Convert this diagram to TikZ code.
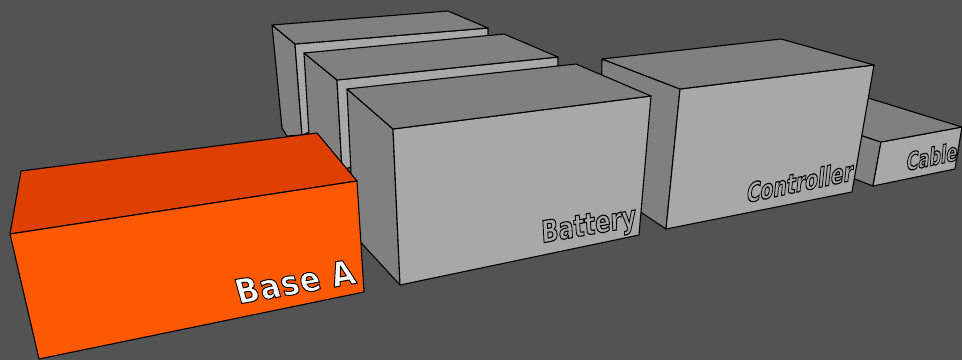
\documentclass[tikz,border=0pt]{standalone}
\usepackage{fontspec}
\setmainfont{DejaVu Sans}
\definecolor{bg}{HTML}{535353}
\definecolor{topgrey}{HTML}{808080}
\definecolor{frontgrey}{HTML}{A8A8A8}
\definecolor{toporange}{HTML}{DD4000}
\definecolor{frontorange}{HTML}{FF5900}
\newcommand{\strokedtext}[2]{\special{pdf:code 2 Tr #1 w 0 0 0 RG #2 g}}
\newcommand{\plaintextmode}{\special{pdf:code 0 Tr}}
\tikzset{
  face/.style={draw=black,line width=1.1pt,line join=round},
  topface/.style={face,fill=topgrey},
  sideface/.style={face,fill=topgrey},
  frontface/.style={face,fill=frontgrey},
  labeltext/.style={anchor=base west,inner sep=0pt,outer sep=0pt,transform shape}
}
\begin{document}
\begin{tikzpicture}[x=1pt,y=-1pt]
\fill[bg] (0,0) rectangle (962,360);
\useasboundingbox (0,0) rectangle (962,360);
% back box
\draw[sideface] (272,25) -- (295,44) -- (302,135) -- (287,136) -- (282,128) -- cycle;
\draw[frontface] (295,44) -- (488,28) -- (488,60) -- (302,135) -- cycle;
\draw[topface] (272,25) -- (448,11) -- (488,28) -- (295,44) -- cycle;
% second box
\draw[sideface] (304,53) -- (337,80) -- (342,170) -- (309,135) -- cycle;
\draw[frontface] (337,80) -- (558,57) -- (558,100) -- (342,170) -- cycle;
\draw[topface] (304,53) -- (504,34) -- (558,57) -- (337,80) -- cycle;
% cable
\draw[sideface] (860,135) -- (881,142) -- (873,186) -- (852,178) -- cycle;
\draw[frontface] (881,142) -- (962,127) -- (955,169) -- (873,186) -- cycle;
\draw[topface] (860,95.5) -- (962,127) -- (881,142) -- (860,135) -- cycle;
% controller
\draw[sideface] (602,59) -- (680,89) -- (666,229) -- (642,213) -- (600,180) -- cycle;
\draw[frontface] (680,89) -- (874,65) -- (852,192) -- (666,229) -- cycle;
\draw[topface] (602,59) -- (781,39) -- (874,65) -- (680,89) -- cycle;
% battery
\draw[sideface] (347,89) -- (393,129) -- (400,285) -- (354,235) -- cycle;
\draw[frontface] (393,129) -- (651,96) -- (639,235) -- (400,285) -- cycle;
\draw[topface] (347,89) -- (576,64) -- (651,96) -- (393,129) -- cycle;
% base A
\draw[face,fill=toporange] (21,171) -- (317,133) -- (357,181) -- (10,234) -- cycle;
\draw[face,fill=frontorange] (10,234) -- (357,181) -- (364,292) -- (39,359) -- cycle;
% labels
\node[labeltext,rotate=10,xslant=-.1,xscale=.9] (baselabel) at (239,304)
  {\fontsize{34}{34}\selectfont\bfseries\addfontfeatures{LetterSpace=2.5}\strokedtext{1}{1}Base A\plaintextmode};
\node[labeltext,rotate=10,xslant=.12,xscale=.76] (batterylabel) at (542,243)
  {\fontsize{30}{30}\selectfont\bfseries\strokedtext{1.1}{.66}Battery\plaintextmode};
\node[labeltext,rotate=12,xslant=.32,xscale=.74] (controllerlabel) at (746,203)
  {\fontsize{26}{26}\selectfont\bfseries\strokedtext{1.1}{.66}Controller\plaintextmode};
\node[labeltext,rotate=12,xslant=.3,xscale=.69] (cablelabel) at (906,171)
  {\fontsize{24}{24}\selectfont\bfseries\strokedtext{1.1}{.66}Cable\plaintextmode};
\end{tikzpicture}
\end{document}
